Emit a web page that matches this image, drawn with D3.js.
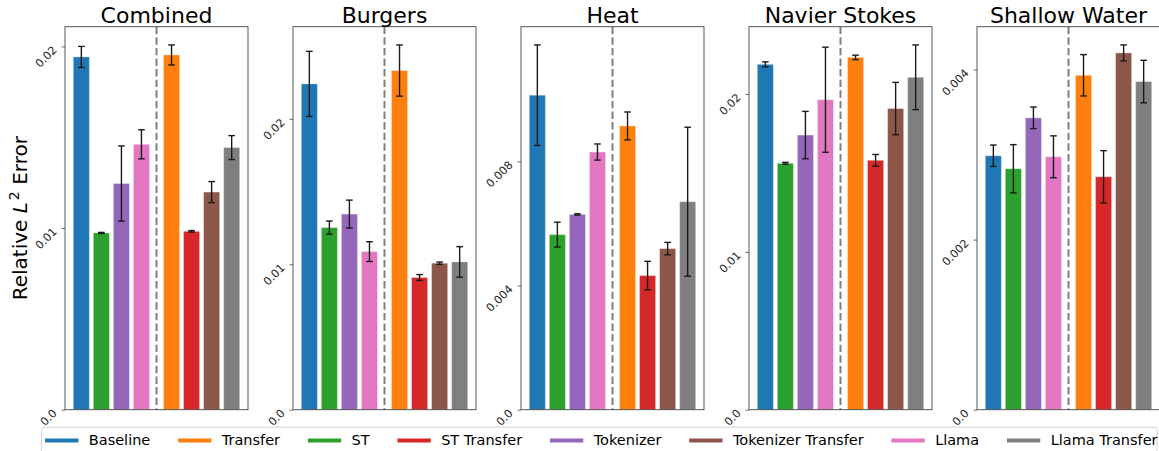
<!DOCTYPE html>
<html>
<head>
<meta charset="utf-8">
<script src="https://cdn.jsdelivr.net/npm/d3@7"></script>
<style>
  html, body { margin: 0; padding: 0; background: #fff; }
  svg { display: block; font-family: "DejaVu Sans", sans-serif; }
</style>
</head>
<body>
<svg id="chart" width="1159" height="451"></svg>
<script>
// Methods in legend order and in bar order (left group: trained from scratch, right group: transfer)
const legendOrder = ["Baseline", "Transfer", "ST", "ST Transfer", "Tokenizer", "Tokenizer Transfer", "Llama", "Llama Transfer"];
const barOrder = ["Baseline", "ST", "Tokenizer", "Llama", "Transfer", "ST Transfer", "Tokenizer Transfer", "Llama Transfer"];
const barPositions = [0, 1, 2, 3, 4.5, 5.5, 6.5, 7.5];
const dividerPosition = 3.75;

const methodColors = {
  "Baseline": "#1f77b4",
  "Transfer": "#ff7f0e",
  "ST": "#2ca02c",
  "ST Transfer": "#d62728",
  "Tokenizer": "#9467bd",
  "Tokenizer Transfer": "#8c564b",
  "Llama": "#e377c2",
  "Llama Transfer": "#7f7f7f"
};

const panelTitles = ["Combined", "Burgers", "Heat", "Navier Stokes", "Shallow Water"];

// Mean relative L2 error per dataset, in barOrder
const combinedMean = [0.01942, 0.00973, 0.01245, 0.01461, 0.01953, 0.00982, 0.01198, 0.01443];
const combinedErr  = [0.00058, 0.00003, 0.00207, 0.00080, 0.00055, 0.00004, 0.00058, 0.00066];
const burgersMean  = [0.02240, 0.01252, 0.01345, 0.01087, 0.02332, 0.00909, 0.01007, 0.01016];
const burgersErr   = [0.00224, 0.00045, 0.00096, 0.00068, 0.00176, 0.00020, 0.00008, 0.00105];
const heatMean     = [0.01013, 0.00564, 0.00629, 0.00830, 0.00914, 0.00432, 0.00519, 0.00670];
const heatErr      = [0.00162, 0.00040, 0.00002, 0.00026, 0.00045, 0.00046, 0.00020, 0.00240];
const navierMean   = [0.02188, 0.01561, 0.01740, 0.01964, 0.02232, 0.01580, 0.01908, 0.02106];
const navierErr    = [0.00016, 0.00006, 0.00150, 0.00333, 0.00014, 0.00037, 0.00166, 0.00205];
const shallowMean  = [0.002986, 0.002833, 0.003432, 0.002974, 0.003932, 0.002739, 0.004195, 0.003858];
const shallowErr   = [0.000126, 0.000284, 0.000127, 0.000246, 0.000243, 0.000307, 0.000094, 0.000250];

// Y tick values and their labels per panel
const combinedTicks = [0, 0.01, 0.02];
const combinedTickLabels = ["0.0", "0.01", "0.02"];
const burgersTicks = [0, 0.01, 0.02];
const burgersTickLabels = ["0.0", "0.01", "0.02"];
const heatTicks = [0, 0.004, 0.008];
const heatTickLabels = ["0.0", "0.004", "0.008"];
const navierTicks = [0, 0.01, 0.02];
const navierTickLabels = ["0.0", "0.01", "0.02"];
const shallowTicks = [0, 0.002, 0.004];
const shallowTickLabels = ["0.0", "0.002", "0.004"];

const panels = [
  { title: panelTitles[0], mean: combinedMean, err: combinedErr, ticks: combinedTicks, labels: combinedTickLabels },
  { title: panelTitles[1], mean: burgersMean, err: burgersErr, ticks: burgersTicks, labels: burgersTickLabels },
  { title: panelTitles[2], mean: heatMean, err: heatErr, ticks: heatTicks, labels: heatTickLabels },
  { title: panelTitles[3], mean: navierMean, err: navierErr, ticks: navierTicks, labels: navierTickLabels },
  { title: panelTitles[4], mean: shallowMean, err: shallowErr, ticks: shallowTicks, labels: shallowTickLabels }
];

// Layout
const firstLeft = 65, panelStep = 228, panelWidth = 183;
const axTop = 26.7, axBottom = 409.7;
const barWidth = 0.8;
const xPad = 0.05 * (barPositions[barPositions.length - 1] - barPositions[0] + barWidth);
const xDomain = [barPositions[0] - barWidth / 2 - xPad, barPositions[barPositions.length - 1] + barWidth / 2 + xPad];

const svg = d3.select("#chart");

panels.forEach((p, i) => {
  const left = firstLeft + i * panelStep;
  const g = svg.append("g").attr("class", "panel");

  const x = d3.scaleLinear().domain(xDomain).range([left, left + panelWidth]);
  const yMax = d3.max(p.mean.map((m, k) => m + p.err[k])) * 1.05;
  const y = d3.scaleLinear().domain([0, yMax]).range([axBottom, axTop]);

  const rows = barOrder.map((name, k) => ({ name, pos: barPositions[k], mean: p.mean[k], err: p.err[k] }));

  // bars
  g.selectAll("rect.bar").data(rows).enter().append("rect")
    .attr("class", "bar")
    .attr("x", d => x(d.pos - barWidth / 2))
    .attr("width", d => x(d.pos + barWidth / 2) - x(d.pos - barWidth / 2))
    .attr("y", d => y(d.mean))
    .attr("height", d => y(0) - y(d.mean))
    .attr("fill", d => methodColors[d.name])
    .attr("stroke", "#ffffff")
    .attr("stroke-opacity", 0.3)
    .attr("stroke-width", 1);

  // error bars
  const eb = g.selectAll("g.err").data(rows).enter().append("g").attr("class", "err")
    .attr("stroke", "#1a1a1a").attr("stroke-width", 1.4);
  eb.append("line")
    .attr("x1", d => x(d.pos)).attr("x2", d => x(d.pos))
    .attr("y1", d => y(d.mean - d.err)).attr("y2", d => y(d.mean + d.err));
  eb.append("line")
    .attr("x1", d => x(d.pos) - 3.3).attr("x2", d => x(d.pos) + 3.3)
    .attr("y1", d => y(d.mean + d.err)).attr("y2", d => y(d.mean + d.err));
  eb.append("line")
    .attr("x1", d => x(d.pos) - 3.3).attr("x2", d => x(d.pos) + 3.3)
    .attr("y1", d => y(d.mean - d.err)).attr("y2", d => y(d.mean - d.err));

  // dashed divider between the two groups
  g.append("line")
    .attr("x1", x(dividerPosition)).attr("x2", x(dividerPosition))
    .attr("y1", axTop).attr("y2", axBottom)
    .attr("stroke", "#808080").attr("stroke-width", 2)
    .attr("stroke-dasharray", "7.4,3.2");

  // frame
  g.append("rect")
    .attr("x", left).attr("y", axTop)
    .attr("width", panelWidth).attr("height", axBottom - axTop)
    .attr("fill", "none").attr("stroke", "#444").attr("stroke-width", 0.9);

  // y axis ticks
  const yAxis = d3.axisLeft(y).tickValues(p.ticks).tickSize(3.5)
    .tickFormat((d, k) => p.labels[k]);
  const ax = g.append("g").attr("transform", `translate(${left},0)`).call(yAxis);
  ax.select(".domain").remove();
  ax.selectAll(".tick line").attr("stroke", "#444").attr("stroke-width", 0.8);
  ax.selectAll(".tick text")
    .attr("x", null).attr("dy", null)
    .attr("fill", "#262626")
    .style("font-family", "DejaVu Sans")
    .style("font-size", "11.2px")
    .attr("text-anchor", "end")
    .attr("transform", "translate(-7.5,3.8) rotate(-45)");

  // title
  g.append("text")
    .attr("x", left + panelWidth / 2).attr("y", 22.5)
    .attr("text-anchor", "middle")
    .style("font-size", "22px")
    .attr("fill", "#000")
    .text(p.title);
});

// y axis label
const yl = svg.append("text")
  .attr("transform", `translate(26.5,${(axTop + axBottom) / 2}) rotate(-90)`)
  .attr("text-anchor", "middle")
  .style("font-size", "20px")
  .attr("fill", "#000");
yl.append("tspan").text("Relative ");
yl.append("tspan").style("font-style", "italic").text("L");
yl.append("tspan").attr("dy", -8).attr("dx", 2).style("font-size", "14px").text("2");
yl.append("tspan").attr("dy", 8).text(" Error");

// legend
const legend = svg.append("g").attr("class", "legend");
legend.append("rect")
  .attr("x", 41.4).attr("y", 427.2)
  .attr("width", 1157 - 41.4).attr("height", 32)
  .attr("rx", 3).attr("ry", 3)
  .attr("fill", "#fff").attr("stroke", "#d6d6d6").attr("stroke-width", 1);

let cursor = 45.1;
const handleLen = 33.3, handlePad = 10.4, colGap = 27.8;
legendOrder.forEach(name => {
  legend.append("line")
    .attr("x1", cursor).attr("x2", cursor + handleLen)
    .attr("y1", 440.5).attr("y2", 440.5)
    .attr("stroke", methodColors[name]).attr("stroke-width", 4);
  const t = legend.append("text")
    .attr("x", cursor + handleLen + handlePad).attr("y", 444.5)
    .style("font-size", "14.5px")
    .attr("fill", "#000")
    .text(name);
  cursor += handleLen + handlePad + t.node().getComputedTextLength() + colGap;
});
</script>
</body>
</html>
